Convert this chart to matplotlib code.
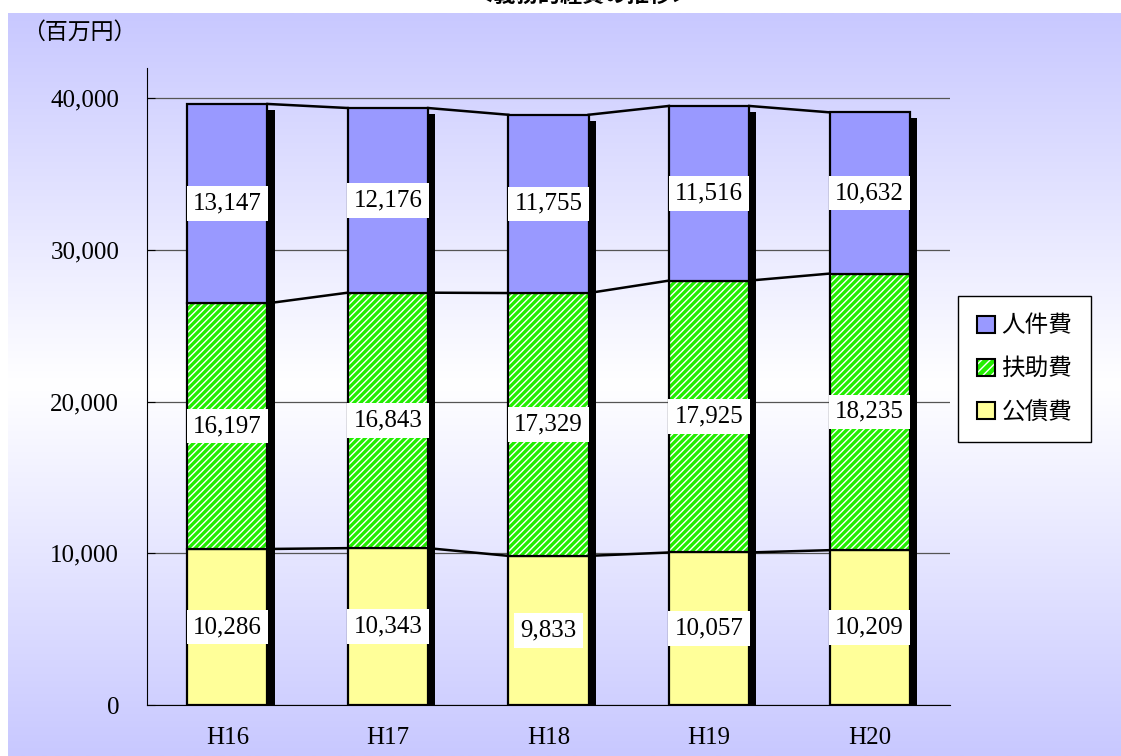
import numpy as np
import matplotlib
matplotlib.use('Agg')
import matplotlib.pyplot as plt
from matplotlib.patches import Patch
from matplotlib.colors import LinearSegmentedColormap

# データ（百万円）
years = ['H16', 'H17', 'H18', 'H19', 'H20']
kousai = [10286, 10343, 9833, 10057, 10209]    # 公債費
fujo = [16197, 16843, 17329, 17925, 18235]     # 扶助費
jinken = [13147, 12176, 11755, 11516, 10632]   # 人件費
series_names = ['人件費', '扶助費', '公債費']
yticks = [0, 10000, 20000, 30000, 40000]

W, H = 1121, 756
fig = plt.figure(figsize=(W / 100, H / 100), dpi=100)

# 背景グラデーション
bg = fig.add_axes([8 / W, 0, 1 - 8 / W, (H - 13) / H], zorder=-10)
cmap = LinearSegmentedColormap.from_list('bg', ['#c8c8ff', '#ffffff', '#c8c8ff'])
bg.imshow(np.linspace(0, 1, 256).reshape(-1, 1), aspect='auto', cmap=cmap,
          extent=[0, 1, 0, 1])
bg.axis('off')

# タイトル（上端で切れている）
fig.text(0.52, 1.006, '＜義務的経費の推移＞', ha='center', va='center',
         fontsize=16, fontweight='bold', family=['Noto Sans CJK JP'])
fig.text(22 / W, 1 - 32 / H, '（百万円）', ha='left', va='center',
         fontsize=16.5, family=['Noto Sans CJK JP'])

ax = fig.add_axes([147 / W, 51 / H, 803 / W, 637 / H])
ax.patch.set_alpha(0)

x = np.arange(len(years))
w = 0.5
k = np.array(kousai)
f = np.array(fujo)
j = np.array(jinken)
total = k + f + j

# 影
ax.bar(x + w / 2 + 0.022, total - 400, width=0.045, color='black', zorder=2)

# 積み上げ棒
ax.bar(x, k, w, color='#ffff99', edgecolor='black', linewidth=1.6, zorder=3)
ax.bar(x, f, w, bottom=k, color='#22ee00', edgecolor='white', hatch='/////',
       linewidth=0, zorder=3)
ax.bar(x, f, w, bottom=k, fill=False, edgecolor='black', linewidth=1.6, zorder=3)
ax.bar(x, j, w, bottom=k + f, color='#9999ff', edgecolor='black', linewidth=1.6,
       zorder=3)

# 区分線
for level in [k, k + f, total]:
    for i in range(len(years) - 1):
        ax.plot([x[i] + w / 2, x[i + 1] - w / 2], [level[i], level[i + 1]],
                color='black', linewidth=1.8, zorder=1)

# 数値ラベル
box = dict(boxstyle='square,pad=0.25', facecolor='white', edgecolor='none')
for bottoms, vals in [(np.zeros(5), k), (k, f), (k + f, j)]:
    for i in range(len(years)):
        ax.text(x[i], bottoms[i] + vals[i] / 2, f'{vals[i]:,}', ha='center',
                va='center', fontsize=18, family='Liberation Serif', bbox=box,
                zorder=5)

ax.set_xlim(-0.5, 4.5)
ax.set_ylim(0, 42000)
ax.set_yticks(yticks)
ax.set_yticklabels([f'{v:,}' for v in yticks], family='Liberation Serif', fontsize=18)
ax.set_xticks(x)
ax.set_xticklabels(years, family='Liberation Serif', fontsize=18)
ax.tick_params(axis='x', length=0, pad=16)
ax.tick_params(axis='y', direction='in', length=6, pad=20)
ax.grid(axis='y', color='#555555', linewidth=0.9, zorder=0)
ax.set_axisbelow(True)
for s in ['top', 'right']:
    ax.spines[s].set_visible(False)

handles = [
    Patch(facecolor='#9999ff', edgecolor='black', linewidth=1.5),
    (Patch(facecolor='#22ee00', edgecolor='white', hatch='////', linewidth=0),
     Patch(fill=False, edgecolor='black', linewidth=1.5)),
    Patch(facecolor='#ffff99', edgecolor='black', linewidth=1.5),
]
leg = fig.legend(handles, series_names, loc='center left',
                 bbox_to_anchor=(958 / W, 1 - 369 / H), fancybox=False,
                 edgecolor='black', framealpha=1, handlelength=0.75,
                 handleheight=0.75, handletextpad=0.3, labelspacing=0.85,
                 borderpad=0.8, borderaxespad=0,
                 prop={'family': 'Noto Sans CJK JP', 'size': 17})
leg.get_frame().set_linewidth(1.0)

fig.savefig('out.png', dpi=100)
